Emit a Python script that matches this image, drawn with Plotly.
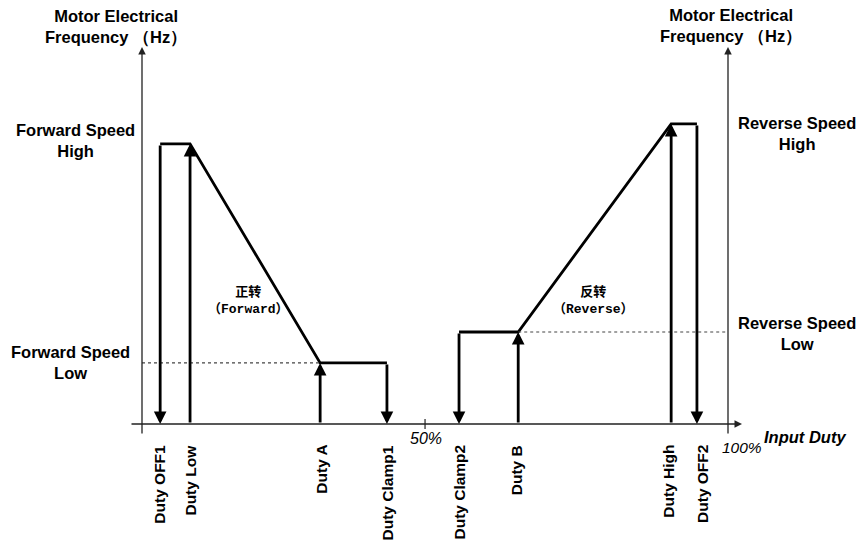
import plotly.graph_objects as go

# ---------------- data ----------------
duty_labels = ["Duty OFF1", "Duty Low", "Duty A", "Duty Clamp1",
               "Duty Clamp2", "Duty B", "Duty High", "Duty OFF2"]
duty_values = [3.1, 8.2, 30.4, 41.8, 54.1, 64.2, 90.3, 94.7]   # % input duty (schematic)

speed_labels = ["Forward Speed<br>High", "Forward Speed<br>Low",
                "Reverse Speed<br>High", "Reverse Speed<br>Low"]
speed_values = [74.3, 16.2, 79.6, 24.4]                        # relative frequency

tick_positions = [48.3, 100]
tick_labels = ["50%", "100%"]

axis_title_y = "Motor Electrical<br>Frequency （Hz）"
axis_title_x = "Input Duty"
region_labels = ["正转<br>（Forward）", "反转<br>（Reverse）"]

# ---------------- layout geometry ----------------
W, H = 859, 547
PX0, PX100 = 142, 728     # pixel of x=0 and x=100
PY0, PY100 = 424, 47      # pixel of y=0 and y=100
sx = (PX100 - PX0) / 100
sy = (PY0 - PY100) / 100
xr = [-PX0 / sx, (W - PX0) / sx]
yr = [-(H - PY0) / sy, PY0 / sy]

def dx(px):   # pixel distance -> x units
    return px / sx

def dy(px):
    return px / sy

OFF1, LOW, A, CL1, CL2, B, HIGH, OFF2 = duty_values
FH, FL, RH, RL = speed_values

fig = go.Figure()

CURVE = dict(color="black", width=2.8)
# forward curve
fig.add_trace(go.Scatter(x=[OFF1, LOW, A, CL1], y=[FH, FH, FL, FL], mode="lines",
                         line=CURVE, hoverinfo="skip", showlegend=False))
# reverse curve
fig.add_trace(go.Scatter(x=[CL2, B, HIGH, OFF2], y=[RL, RL, RH, RH], mode="lines",
                         line=CURVE, hoverinfo="skip", showlegend=False))
# dotted guide lines
DOT = dict(color="#444444", width=1.2, dash="dot")
fig.add_trace(go.Scatter(x=[0, A], y=[FL, FL], mode="lines", line=DOT,
                         hoverinfo="skip", showlegend=False))
fig.add_trace(go.Scatter(x=[B, 100], y=[RL, RL], mode="lines", line=DOT,
                         hoverinfo="skip", showlegend=False))

annotations = []

def arrow(x0, y0, x1, y1, width=2.8, size=0.9, color="black"):
    annotations.append(dict(x=x1, y=y1, ax=x0, ay=y0, xref="x", yref="y",
                            axref="x", ayref="y", text="", showarrow=True,
                            arrowhead=2, arrowsize=size, arrowwidth=width,
                            arrowcolor=color, standoff=0, startstandoff=0))

# down arrows
arrow(OFF1, FH, OFF1, 0)
arrow(CL1, FL, CL1, 0)
arrow(CL2, RL, CL2, 0)
arrow(OFF2, RH, OFF2, 0)
# up arrows
arrow(LOW, 0, LOW, FH)
arrow(A, 0, A, FL)
arrow(B, 0, B, RL)
arrow(HIGH, 0, HIGH, RH)

# axes with arrowheads
AX = "#222222"
arrow(0, -dy(11), 0, 100, width=1.3, size=1.15, color=AX)
arrow(100, -dy(11), 100, 100, width=1.3, size=1.15, color=AX)
arrow(-dx(12), 0, 100 + dx(14), 0, width=1.3, size=1.15, color=AX)

shapes = []
for t in tick_positions[:1]:
    shapes.append(dict(type="line", xref="x", yref="y", x0=t, x1=t,
                       y0=-dy(5), y1=dy(5), line=dict(color=AX, width=1.2)))

BOLD = "Liberation Sans"
def txt(text, x, y, xref="paper", yref="paper", size=16.5, bold=True, italic=False,
        xanchor="center", yanchor="middle", angle=0, family=BOLD, xshift=0, yshift=0):
    annotations.append(dict(text=text, x=x, y=y, xref=xref, yref=yref, showarrow=False,
                            font=dict(family=family, size=size, color="black",
                                      weight="bold" if bold else "normal",
                                      style="italic" if italic else "normal"),
                            xanchor=xanchor, yanchor=yanchor, textangle=angle,
                            xshift=xshift, yshift=yshift, align="center"))

def px2paper(px, py):
    return px / W, 1 - py / H

# axis titles
x, y = px2paper(116, 27)
txt(axis_title_y, x, y)
x, y = px2paper(731, 26)
txt(axis_title_y, x, y)

# speed labels
speed_px = [75, 70, 797, 797]
speed_shift = [3.5, 0, -9.5, -1]
for lab, val, px, ys in zip(speed_labels, speed_values, speed_px, speed_shift):
    txt(lab, px / W, val, yref="y", yshift=ys)

# duty labels (rotated)
duty_shift = [-1, 0, 1, 1, 0, -2, -3, 5]
for lab, val, xs in zip(duty_labels, duty_values, duty_shift):
    txt(lab, val, 1 - 443 / H, xref="x", size=15.5, angle=-90, yanchor="top", xshift=xs)

# tick labels
txt(tick_labels[0], tick_positions[0], 1 - 438 / H, xref="x", size=16, bold=False,
    italic=True, xshift=1)
txt(tick_labels[1], tick_positions[1], 1 - 447 / H, xref="x", size=15.5, bold=False,
    italic=True, xshift=14)
x, y = px2paper(805, 437)
txt(axis_title_x, x, y, size=16.5, italic=True)

# region labels
MONO = "Liberation Mono, Noto Sans CJK SC"
x, y = px2paper(248, 300)
txt(region_labels[0], x, y, size=13, bold=True, family=MONO)
x, y = px2paper(593, 300)
txt(region_labels[1], x, y, size=13, bold=True, family=MONO)

fig.update_layout(
    width=W, height=H, margin=dict(l=0, r=0, t=0, b=0),
    paper_bgcolor="white", plot_bgcolor="white",
    xaxis=dict(range=xr, visible=False, fixedrange=True),
    yaxis=dict(range=yr, visible=False, fixedrange=True),
    annotations=annotations, shapes=shapes, showlegend=False,
)

fig.write_html("out.html", config={"displayModeBar": False},
               post_script="document.body.style.margin='0';")
